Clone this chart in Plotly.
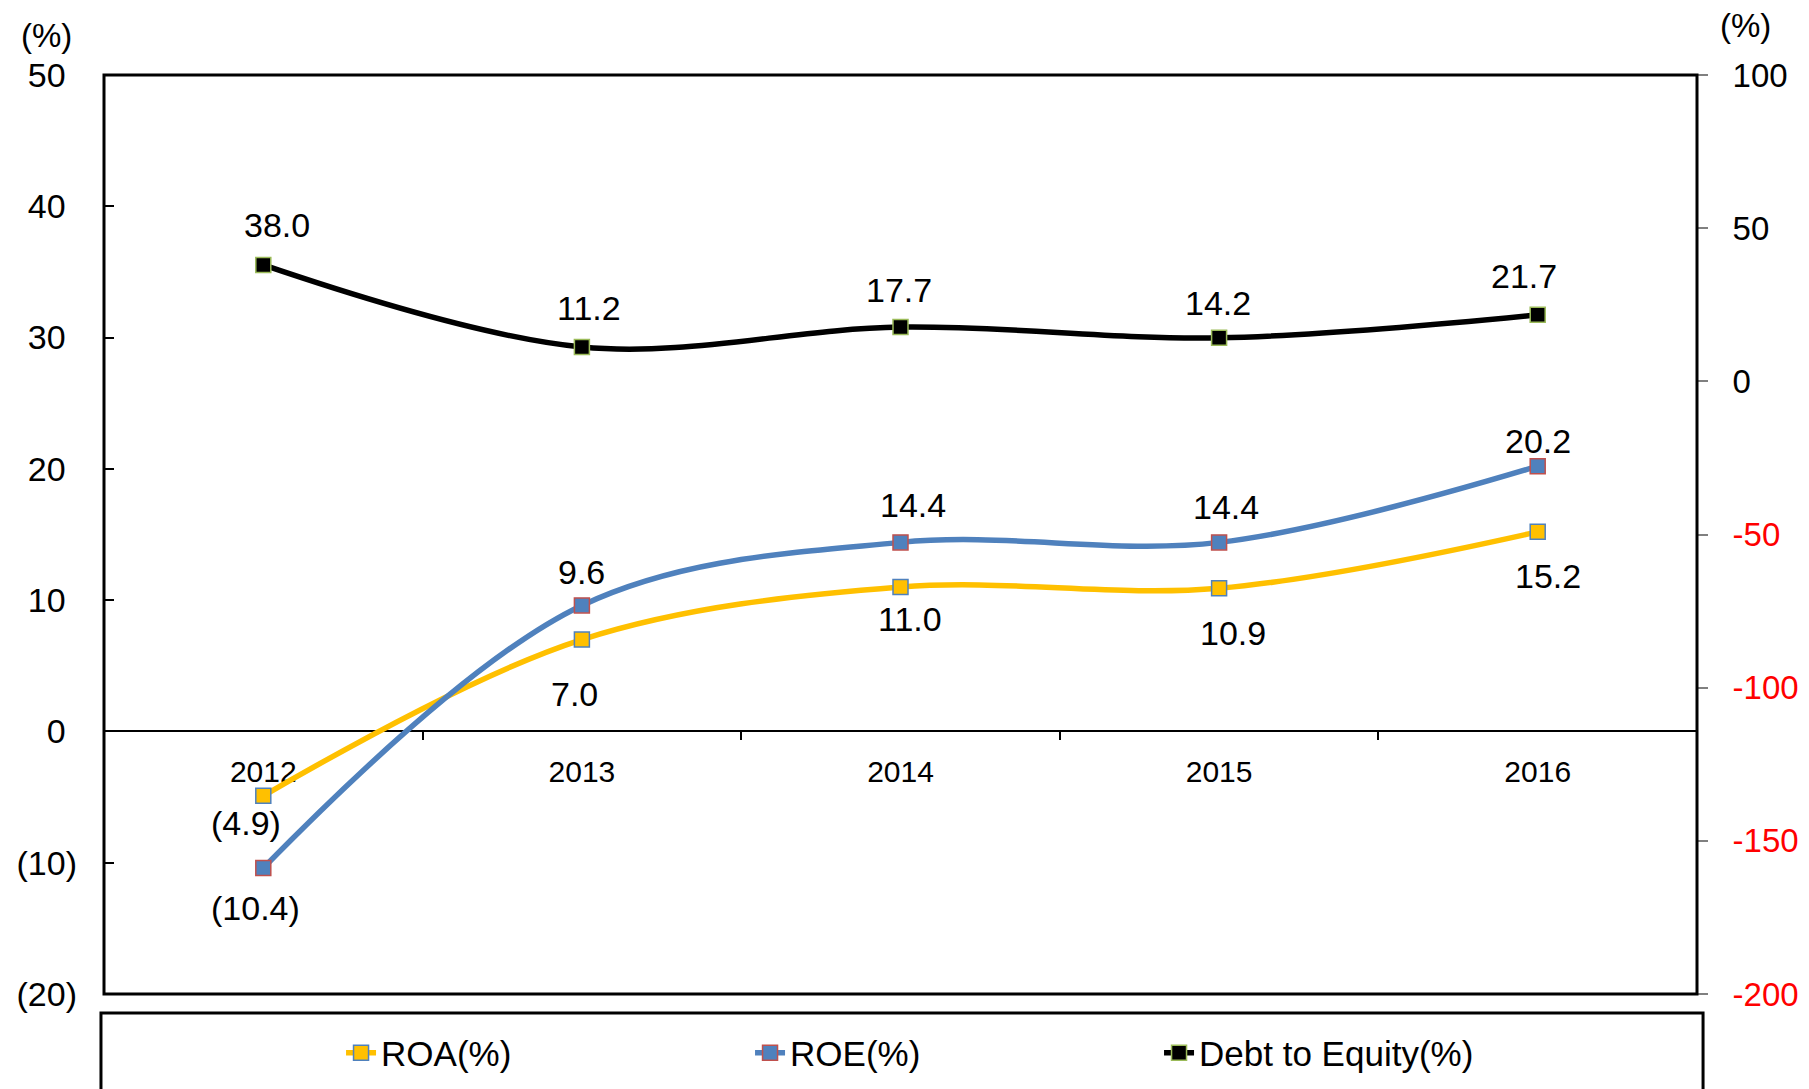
import plotly.graph_objects as go

# Financial ratios, 2012-2016
years = ["2012", "2013", "2014", "2015", "2016"]
roa = [-4.9, 7.0, 11.0, 10.9, 15.2]
roe = [-10.4, 9.6, 14.4, 14.4, 20.2]
debt_to_equity = [38.0, 11.2, 17.7, 14.2, 21.7]

left_ticks = [50, 40, 30, 20, 10, 0, -10, -20]
right_ticks = [100, 50, 0, -50, -100, -150, -200]

FONT = "Liberation Sans, Arial, sans-serif"
PAD = "<span style='color:rgba(0,0,0,0)'>)</span>"


def fmt_value(v):
    return f"({abs(v):.1f})" if v < 0 else f"{v:.1f}"


def fmt_left(v):
    return f"({abs(v)})" if v < 0 else f"{v}{PAD}"


def fmt_right(v):
    return f"<span style='color:#FF0000'>{v}</span>" if v < 0 else f"{v}"


fig = go.Figure()

fig.add_trace(go.Scatter(
    x=years, y=roa, name="ROA(%)", mode="lines+markers", yaxis="y",
    line=dict(color="#FFC000", width=5.5, shape="spline", smoothing=1),
    marker=dict(symbol="square", size=15, color="#FFC000",
                line=dict(color="#4F81BD", width=1.5)),
))
fig.add_trace(go.Scatter(
    x=years, y=roe, name="ROE(%)", mode="lines+markers", yaxis="y",
    line=dict(color="#4F81BD", width=5.5, shape="spline", smoothing=1),
    marker=dict(symbol="square", size=15, color="#4F81BD",
                line=dict(color="#C0504D", width=1.5)),
))
fig.add_trace(go.Scatter(
    x=years, y=debt_to_equity, name="Debt to Equity(%)", mode="lines+markers", yaxis="y2",
    line=dict(color="#000000", width=5.5, shape="spline", smoothing=1),
    marker=dict(symbol="square", size=15, color="#000000",
                line=dict(color="#9BBB59", width=1.5)),
))

# Data labels: (series, axis, pixel offsets per point)
label_sets = [
    (roa, "y", [(-17, -27), (-7, -54), (9, -32), (14, -45), (10, -44)]),
    (roe, "y", [(-8, -40), (0, 33), (12, 37), (7, 35), (0, 25)]),
    (debt_to_equity, "y2", [(14, 40), (7, 39), (-2, 37), (-1, 35), (-14, 39)]),
]
for values, yref, offsets in label_sets:
    for i, (v, (dx, dy)) in enumerate(zip(values, offsets)):
        fig.add_annotation(
            x=i, y=v, xref="x", yref=yref, text=fmt_value(v), showarrow=False,
            xanchor="center", yanchor="middle", xshift=dx, yshift=dy,
            font=dict(family=FONT, size=34, color="#000000"),
        )

# Unit captions above each value axis
fig.add_annotation(x=-0.0364, y=1.0435, xref="paper", yref="paper", text="(%)",
                   xanchor="center", yanchor="middle", showarrow=False,
                   font=dict(family=FONT, size=33, color="#000000"))
fig.add_annotation(x=1.0307, y=1.054, xref="paper", yref="paper", text="(%)",
                   xanchor="center", yanchor="middle", showarrow=False,
                   font=dict(family=FONT, size=33, color="#000000"))

# Plot frame and legend frame
fig.add_shape(type="rect", xref="paper", yref="paper", x0=0, x1=1, y0=0, y1=1,
              line=dict(color="#000000", width=3))
fig.add_shape(type="rect", xref="paper", yref="paper", x0=-0.0019, x1=1.0038,
              y0=-0.2, y1=-0.0207, line=dict(color="#000000", width=3))

fig.update_layout(
    width=1809, height=1089,
    margin=dict(l=104, r=112, t=75, b=95, autoexpand=False),
    paper_bgcolor="#FFFFFF", plot_bgcolor="#FFFFFF",
    font=dict(family=FONT, color="#000000"),
    showlegend=True,
    legend=dict(
        orientation="h", x=0.1488, y=-0.0642, xanchor="left", yanchor="middle",
        font=dict(family=FONT, size=35, color="#000000"),
        bgcolor="rgba(0,0,0,0)", borderwidth=0,
        entrywidth=364, entrywidthmode="pixels", traceorder="normal",
    ),
    xaxis=dict(
        type="category", range=[-0.5, 4.5], anchor="free", position=20 / 70,
        showline=True, linecolor="#000000", linewidth=2,
        ticks="outside", tickson="boundaries", ticklen=8, tickwidth=1.5,
        tickcolor="#000000", ticklabelstandoff=14,
        tickfont=dict(family=FONT, size=30, color="#000000"),
        showgrid=False, zeroline=False, layer="below traces",
    ),
    yaxis=dict(
        range=[-20, 50], tickvals=left_ticks, ticktext=[fmt_left(v) for v in left_ticks],
        ticks="inside", ticklen=10, tickwidth=1.5, tickcolor="#000000",
        ticklabelstandoff=26, tickfont=dict(family=FONT, size=34, color="#000000"),
        showgrid=False, zeroline=False, showline=False,
    ),
    yaxis2=dict(
        range=[-200, 100], overlaying="y", side="right",
        tickvals=right_ticks, ticktext=[fmt_right(v) for v in right_ticks],
        ticks="outside", ticklen=10, tickwidth=1.5, tickcolor="#808080",
        ticklabelstandoff=18, tickfont=dict(family=FONT, size=33, color="#000000"),
        showgrid=False, zeroline=False, showline=False,
    ),
)

fig.write_html("out.html")
